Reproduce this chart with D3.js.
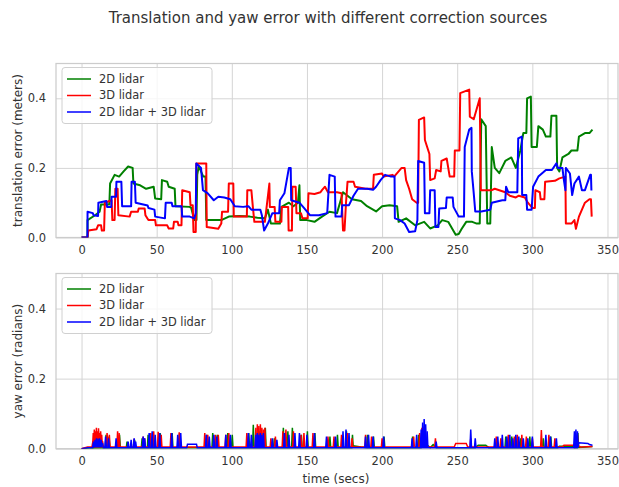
<!DOCTYPE html>
<html>
<head>
<meta charset="utf-8">
<script src="https://cdn.jsdelivr.net/npm/d3@7"></script>
<style>
  body { margin: 0; background: #fff; }
  text { font-family: 'DejaVu Sans', sans-serif; fill: #333; }
</style>
</head>
<body>
<div id="chart"></div>
<script>
// series names, in legend order
const seriesNames = ['2D lidar', '3D lidar', '2D lidar + 3D lidar']
const seriesColors = ['#008000', '#ff0000', '#0000ff']
const xTicks = [0, 50, 100, 150, 200, 250, 300, 350]
const yTicks = [0, 0.2, 0.4]

// translation error [time, meters]
const trans2d = [[0, 0], [4, 0], [4, 0.05], [9, 0.064], [12, 0.074], [13, 0.095], [18.5, 0.095], [19, 0.155], [22, 0.18], [25, 0.175], [28, 0.19], [31, 0.204], [34, 0.2], [34.5, 0.155], [39, 0.15], [43, 0.14], [48, 0.146], [49, 0.112], [53, 0.11], [53.5, 0.165], [57, 0.16], [58, 0.146], [62, 0.14], [62.5, 0.09], [72, 0.088], [73, 0.085], [75, 0.05], [76.5, 0.05], [77, 0.18], [78, 0.205], [81, 0.175], [82.5, 0.175], [83, 0.05], [93, 0.05], [98, 0.06], [105, 0.062], [112, 0.06], [117, 0.057], [122, 0.055], [124, 0.08], [126, 0.04], [132, 0.04], [133, 0.088], [138, 0.1], [141, 0.09], [144, 0.1], [145, 0.15], [145.5, 0.05], [150, 0.05], [155, 0.045], [160, 0.06], [165, 0.074], [170, 0.07], [174, 0.13], [180, 0.11], [186, 0.105], [190, 0.09], [196, 0.075], [200, 0.09], [205, 0.093], [210, 0.09], [211, 0.045], [216, 0.055], [222, 0.035], [228, 0.045], [232, 0.026], [237, 0.035], [240, 0.05], [244, 0.045], [249, 0.008], [251, 0.01], [253, 0.025], [256, 0.045], [260, 0.045], [263, 0.04], [265, 0.04], [266, 0.34], [269, 0.32], [270, 0.04], [272, 0.04], [273, 0.26], [275, 0.2], [278, 0.185], [282, 0.22], [286, 0.23], [289, 0.2], [292, 0.25], [294, 0.3], [296, 0.3], [296.5, 0.4], [299, 0.405], [299.5, 0.26], [303, 0.26], [304, 0.32], [307, 0.31], [309, 0.29], [312, 0.29], [312.7, 0.35], [316, 0.35], [316.5, 0.2], [318, 0.19], [320, 0.23], [324, 0.24], [326, 0.25], [330, 0.25], [331, 0.29], [335, 0.3], [338, 0.3], [340, 0.31]]
const trans3d = [[0, 0], [4, 0], [4.5, 0.02], [10, 0.024], [11, 0.035], [13, 0.035], [13.5, 0.02], [15, 0.02], [15.5, 0.1], [20, 0.107], [20.5, 0.05], [22, 0.05], [22.5, 0.14], [24, 0.14], [24.5, 0.064], [32, 0.06], [33, 0.074], [37.5, 0.074], [38, 0.083], [42, 0.083], [42.5, 0.064], [44.5, 0.05], [49, 0.05], [49.5, 0.035], [57, 0.035], [58, 0.026], [61, 0.026], [61.5, 0.045], [64, 0.045], [64.5, 0.035], [66.5, 0.035], [67, 0.136], [72, 0.13], [72.5, 0.093], [74, 0.093], [74.5, 0.016], [76, 0.016], [76.4, 0.213], [83, 0.213], [83.3, 0.03], [91, 0.025], [93, 0.04], [93.5, 0.074], [97.5, 0.074], [98, 0.155], [101, 0.155], [101.3, 0.06], [110, 0.06], [110.3, 0.136], [113, 0.136], [114, 0.088], [115, 0.045], [122, 0.045], [125, 0.155], [125.3, 0.088], [128.5, 0.088], [129, 0.045], [133, 0.045], [133.3, 0.088], [137.5, 0.088], [137.8, 0.02], [140, 0.02], [140.3, 0.146], [142.5, 0.146], [143, 0.07], [146, 0.07], [147, 0.055], [150.5, 0.055], [151, 0.127], [155, 0.125], [159, 0.13], [160, 0.136], [162, 0.146], [164, 0.13], [170, 0.13], [173, 0.127], [174, 0.02], [175, 0.02], [176, 0.1], [177, 0.16], [181, 0.16], [182, 0.146], [189, 0.14], [194, 0.14], [194.5, 0.18], [200, 0.184], [201, 0.175], [207, 0.18], [208, 0.175], [213, 0.2], [215, 0.2], [216, 0.165], [218, 0.14], [220, 0.11], [223, 0.1], [224, 0.1], [224.5, 0.338], [228, 0.345], [228.5, 0.28], [231.5, 0.24], [232, 0.165], [235, 0.17], [236, 0.194], [239, 0.19], [239.5, 0.22], [243, 0.227], [245, 0.175], [248, 0.175], [248.4, 0.25], [251.5, 0.25], [252, 0.415], [258, 0.425], [258.4, 0.347], [261, 0.34], [265, 0.4], [265.7, 0.136], [273, 0.136], [275, 0.14], [282, 0.13], [285, 0.12], [289, 0.115], [291, 0.12], [295, 0.115], [297, 0.1], [300, 0.085], [301.7, 0.085], [302, 0.136], [305, 0.13], [305.5, 0.11], [308, 0.11], [308.5, 0.16], [315, 0.163], [318, 0.17], [322, 0.175], [322.3, 0.04], [326, 0.04], [328, 0.05], [329, 0.025], [331, 0.06], [335, 0.1], [338, 0.11], [339, 0.11], [339.5, 0.06]]
const transBoth = [[0, 0], [3.9, 0], [4, 0.074], [7.5, 0.07], [8, 0.064], [11, 0.062], [11.2, 0.1], [16.5, 0.105], [17, 0.088], [19.8, 0.088], [20, 0.117], [23, 0.117], [23.2, 0.16], [26.5, 0.16], [27, 0.09], [33, 0.09], [33.3, 0.16], [35.5, 0.16], [36, 0.1], [44, 0.092], [44.5, 0.085], [48.5, 0.08], [49, 0.06], [55.5, 0.055], [56, 0.1], [60, 0.1], [60.5, 0.09], [66.5, 0.09], [67, 0.06], [72, 0.06], [75, 0.055], [76, 0.07], [76.4, 0.213], [79.5, 0.2], [80.8, 0.136], [84, 0.127], [88, 0.107], [91, 0.117], [95, 0.115], [99, 0.11], [102, 0.09], [107.5, 0.088], [111, 0.09], [113, 0.08], [119, 0.08], [120, 0.064], [121.5, 0.02], [124, 0.04], [127, 0.07], [131.5, 0.07], [132, 0.107], [135, 0.127], [138, 0.2], [139.2, 0.2], [139.5, 0.107], [145, 0.1], [148, 0.085], [152, 0.064], [158, 0.064], [163.5, 0.07], [165, 0.18], [168.5, 0.175], [169, 0.06], [173, 0.06], [173.5, 0.093], [178, 0.093], [181, 0.12], [184, 0.14], [190, 0.14], [194, 0.137], [196, 0.146], [199, 0.165], [202, 0.18], [206, 0.175], [208.3, 0.175], [208.5, 0.055], [212, 0.05], [215, 0.04], [218, 0.016], [222, 0.018], [223.5, 0.05], [224, 0.22], [228, 0.215], [228.5, 0.07], [231.5, 0.07], [232, 0.136], [235, 0.136], [235.5, 0.03], [237.5, 0.03], [238, 0.083], [242.5, 0.085], [243, 0.115], [247, 0.115], [247.5, 0.088], [251, 0.06], [254.5, 0.06], [255, 0.26], [258, 0.31], [259.5, 0.315], [259.7, 0.19], [261, 0.127], [262, 0.075], [266, 0.075], [272, 0.08], [273, 0.1], [280, 0.107], [282, 0.107], [282.5, 0.146], [284, 0.13], [290, 0.13], [290.6, 0.285], [293, 0.29], [293.2, 0.122], [296, 0.122], [296.5, 0.08], [299.5, 0.08], [300.5, 0.146], [304, 0.175], [309, 0.194], [313, 0.194], [316, 0.213], [317, 0.2], [320, 0.2], [321, 0.165], [322, 0.136], [322.3, 0.2], [325, 0.184], [326.5, 0.122], [328, 0.155], [331, 0.175], [333, 0.136], [335, 0.136], [338.5, 0.18], [339, 0.18], [339.3, 0.135]]

// yaw error: slow baseline [time, radians] plus short spikes [time, peak]
const yawBase2d = [[0, 0], [5, 0.002], [20, 0.003], [180, 0.003], [181, 0.008], [186, 0.005], [190, 0.003], [226, 0.003], [228, 0.02], [230, 0.01], [232, 0.003], [234, 0.012], [236, 0.003], [262, 0.003], [264, 0.01], [269, 0.01], [271, 0.003], [317, 0.003], [318, 0.007], [326, 0.007], [328, 0.003], [336, 0.005], [340, 0.006]]
const yawBase3d = [[0, 0], [4, 0.005], [7, 0.005], [7.5, 0.02], [14, 0.02], [14.5, 0.005], [248, 0.005], [249, 0.015], [256, 0.015], [257, 0.005], [320, 0.005], [321, 0.01], [330, 0.01], [332, 0.005], [340, 0.006]]
const yawBaseBoth = [[0, 0], [4, 0.003], [7.5, 0.003], [8, 0.015], [14, 0.015], [14.5, 0.003], [70, 0.003], [70.5, 0.013], [76.5, 0.013], [77, 0.003], [330, 0.003], [331, 0.017], [337, 0.015], [338, 0.012], [340, 0.01]]
const yawSpikes2d = [[8.3, 0.02], [12.3, 0.03], [16.3, 0.04], [18.3, 0.035], [25.3, 0.04], [30.3, 0.02], [35.3, 0.025], [40.3, 0.03], [44.3, 0.04], [47.3, 0.045], [52.3, 0.045], [60.3, 0.045], [65.3, 0.045], [83.3, 0.04], [87.3, 0.045], [90.3, 0.04], [97.3, 0.045], [100.3, 0.04], [111.3, 0.045], [114.3, 0.068], [118.3, 0.05], [122.3, 0.06], [128.3, 0.03], [134.3, 0.06], [137.3, 0.05], [140.3, 0.06], [146.3, 0.04], [150.3, 0.05], [155.3, 0.045], [165.3, 0.035], [170.3, 0.04], [176.3, 0.05], [180.3, 0.04], [190.3, 0.04], [194.3, 0.035], [201.3, 0.035], [220.3, 0.035], [224.3, 0.04], [276.3, 0.03], [282.3, 0.035], [286.3, 0.035], [292.3, 0.03], [298.3, 0.035], [307.3, 0.03], [312.3, 0.035], [330.3, 0.045]]
const yawSpikes3d = [[7.8, 0.045], [8.5, 0.055], [9.2, 0.05], [9.9, 0.06], [10.6, 0.05], [11.3, 0.058], [12, 0.045], [12.7, 0.05], [13.4, 0.04], [17, 0.045], [18.5, 0.04], [24, 0.05], [25, 0.045], [35, 0.028], [41, 0.035], [42, 0.03], [46, 0.045], [48, 0.05], [51, 0.048], [53, 0.04], [59.5, 0.045], [65, 0.047], [82, 0.045], [84, 0.04], [89, 0.04], [91, 0.04], [96, 0.04], [98, 0.045], [110, 0.045], [116, 0.06], [117, 0.07], [118, 0.065], [119, 0.07], [120, 0.06], [121, 0.055], [122, 0.06], [126, 0.03], [129, 0.035], [134, 0.05], [136, 0.055], [141, 0.05], [146, 0.04], [148, 0.045], [154, 0.045], [164, 0.035], [168, 0.035], [173, 0.04], [177, 0.045], [180, 0.03], [189, 0.04], [193, 0.035], [200, 0.03], [221, 0.035], [225, 0.045], [226.5, 0.06], [228, 0.063], [235.5, 0.03], [259, 0.03], [276, 0.035], [279, 0.03], [284, 0.04], [288, 0.035], [290, 0.04], [293, 0.04], [296, 0.035], [300, 0.03], [306, 0.053], [311, 0.04], [315, 0.03], [330, 0.04]]
const yawSpikesBoth = [[8, 0.02], [9, 0.025], [10, 0.03], [11, 0.028], [12, 0.03], [13, 0.025], [16, 0.035], [18, 0.03], [23, 0.03], [31, 0.02], [33, 0.025], [35, 0.03], [36, 0.02], [41, 0.035], [42, 0.03], [45, 0.045], [47, 0.05], [49, 0.04], [52, 0.045], [60, 0.045], [64, 0.04], [66, 0.045], [83, 0.04], [85, 0.035], [88, 0.04], [90, 0.035], [96, 0.04], [99, 0.04], [111, 0.045], [113, 0.04], [116, 0.04], [117, 0.045], [118, 0.04], [119, 0.045], [120, 0.04], [121, 0.045], [127, 0.03], [130, 0.025], [135, 0.045], [138, 0.04], [142, 0.045], [145, 0.045], [150, 0.04], [155, 0.045], [163, 0.035], [169, 0.035], [174, 0.05], [176, 0.055], [178, 0.045], [189, 0.035], [191, 0.04], [194, 0.035], [201, 0.035], [220, 0.03], [223, 0.04], [226, 0.055], [227, 0.075], [228, 0.085], [229, 0.07], [230, 0.05], [236, 0.02], [259, 0.055], [262, 0.03], [275, 0.03], [277, 0.035], [280, 0.04], [283, 0.035], [285, 0.04], [287, 0.03], [289, 0.04], [291, 0.035], [294, 0.03], [297, 0.03], [300, 0.035], [309, 0.04], [312, 0.035], [316, 0.03], [328, 0.05], [329, 0.055], [330, 0.05]]

const width = 619
const height = 487
const left = 56
const right = 618

const svg = d3.select('#chart')
  .append('svg')
  .attr('width', width)
  .attr('height', height)

svg.append('text')
  .attr('x', 328)
  .attr('y', 23)
  .attr('text-anchor', 'middle')
  .attr('font-size', '15px')
  .text('Translation and yaw error with different correction sources')

const x = d3.scaleLinear().domain([-17, 357]).range([left, right])

// draws grid, frame, labels; returns y scale and plot group
function drawPanel (top, bottom, yLabel, id) {
  const y = d3.scaleLinear().domain([0, 0.5]).range([bottom, top])
  const g = svg.append('g')

  // grid + tick labels
  const xAxis = g.append('g')
    .attr('transform', 'translate(0,' + bottom + ')')
    .call(d3.axisBottom(x).tickValues(xTicks).tickSizeInner(-(bottom - top)).tickSizeOuter(0).tickPadding(8).tickFormat(d3.format('d')))
  const yAxis = g.append('g')
    .attr('transform', 'translate(' + left + ',0)')
    .call(d3.axisLeft(y).tickValues(yTicks).tickSizeInner(-(right - left)).tickSizeOuter(0).tickPadding(10).tickFormat(d3.format('.1f')))
  for (const a of [xAxis, yAxis]) {
    a.select('.domain').remove()
    a.selectAll('line').attr('stroke', '#d5d5d5').attr('stroke-width', 1)
    a.selectAll('text').attr('font-size', '11.5px').attr('fill', '#333')
  }

  // frame
  g.append('rect')
    .attr('x', left).attr('y', top)
    .attr('width', right - left).attr('height', bottom - top)
    .attr('fill', 'none').attr('stroke', '#cccccc').attr('stroke-width', 1.25)

  g.append('clipPath').attr('id', id)
    .append('rect').attr('x', left).attr('y', top).attr('width', right - left).attr('height', bottom - top)

  // y label
  g.append('text')
    .attr('transform', 'translate(18,' + ((top + bottom) / 2) + ') rotate(-90)')
    .attr('text-anchor', 'middle')
    .attr('dy', '0.35em')
    .attr('font-size', '12px')
    .text(yLabel)

  const plot = g.append('g').attr('clip-path', 'url(#' + id + ')')

  // legend
  const lg = g.append('g').attr('transform', 'translate(62,' + (top + 4) + ')')
  lg.append('rect')
    .attr('width', 150).attr('height', 56).attr('rx', 3)
    .attr('fill', '#fff').attr('fill-opacity', 0.8)
    .attr('stroke', '#d0d0d0')
  seriesNames.forEach((name, i) => {
    const yy = 11.5 + i * 16.5
    lg.append('line')
      .attr('x1', 5).attr('x2', 29).attr('y1', yy).attr('y2', yy)
      .attr('stroke', seriesColors[i]).attr('stroke-width', 1.5)
    lg.append('text')
      .attr('x', 37).attr('y', yy).attr('dy', '0.35em')
      .attr('font-size', '11.4px')
      .text(name)
  })

  return { y, plot }
}

const topPanel = drawPanel(63.5, 237.5, 'translation error (meters)', 'clipTop')
const botPanel = drawPanel(273.5, 448.7, 'yaw error (radians)', 'clipBot')

svg.append('text')
  .attr('x', 336)
  .attr('y', 483)
  .attr('text-anchor', 'middle')
  .attr('font-size', '12px')
  .text('time (secs)')

// translation lines
const lineTop = d3.line().x(d => x(d[0])).y(d => topPanel.y(d[1]))
;[trans2d, trans3d, transBoth].forEach((data, i) => {
  topPanel.plot.append('path')
    .datum(data)
    .attr('d', lineTop)
    .attr('fill', 'none')
    .attr('stroke', seriesColors[i])
    .attr('stroke-width', 2)
    .attr('stroke-linejoin', 'round')
})

// yaw lines
const yb = botPanel.y
const lineBot = d3.line().x(d => x(d[0])).y(d => yb(d[1]))
const yawBases = [yawBase2d, yawBase3d, yawBaseBoth]
const yawSpikes = [yawSpikes2d, yawSpikes3d, yawSpikesBoth]
yawBases.forEach((data, i) => {
  botPanel.plot.append('path')
    .datum(data)
    .attr('d', lineBot)
    .attr('fill', 'none')
    .attr('stroke', seriesColors[i])
    .attr('stroke-width', 1.5)
  botPanel.plot.selectAll(null)
    .data(yawSpikes[i])
    .enter()
    .append('path')
    .attr('d', d => 'M' + x(d[0] - 0.5) + ',' + yb(0.004) + 'L' + x(d[0]) + ',' + yb(d[1]) + 'L' + x(d[0] + 0.5) + ',' + yb(0.004))
    .attr('fill', 'none')
    .attr('stroke', seriesColors[i])
    .attr('stroke-width', 1.5)
})
</script>
</body>
</html>
